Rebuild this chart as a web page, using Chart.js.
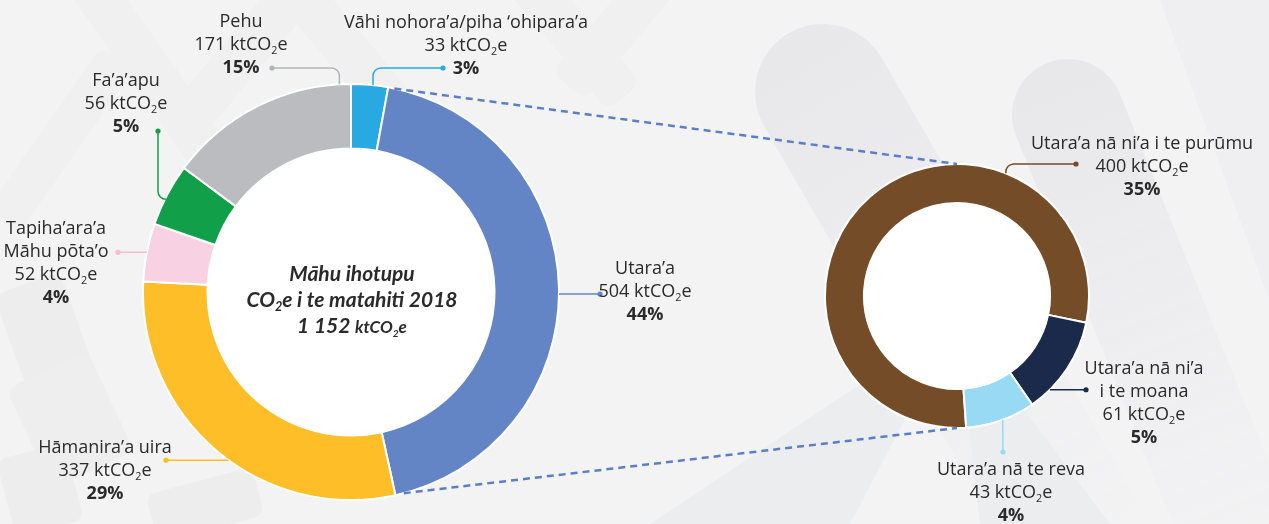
<!DOCTYPE html>
<html>
<head>
<meta charset="utf-8">
<script src="https://cdn.jsdelivr.net/npm/chart.js@4.4.1/dist/chart.umd.min.js"></script>
<style>
    body { margin: 0; width: 1269px; height: 524px; overflow: hidden; position: relative; background: #f3f3f4; font-family: "Open Sans", Lato, sans-serif; color: #2b2a2b; }
    canvas { position: absolute; }
    #bg { left: 0; top: 0; }
    #mainChart { left: 142px; top: 83px; }
    #transportChart { left: 824px; top: 163px; }
    #overlay { left: 0; top: 0; pointer-events: none; }
    .lbl { position: absolute; transform: translateX(-50%); text-align: center; white-space: nowrap; font-size: 18px; line-height: 23px; }
    .lbl b { font-weight: 700; }
    sub { font-size: 0.6em; vertical-align: -0.35em; line-height: 0; }
    #centre { position: absolute; left: 352px; top: 260px; transform: translateX(-50%); text-align: center; white-space: nowrap; font-family: Lato, sans-serif; font-style: italic; font-weight: 700; font-size: 21px; line-height: 26px; }
    #centre .small { font-size: 17px; }
</style>
</head>
<body>
<canvas id="bg" width="1269" height="524"></canvas>
<canvas id="mainChart" width="418" height="418"></canvas>
<canvas id="transportChart" width="266" height="266"></canvas>
<canvas id="overlay" width="1269" height="524"></canvas>
<div id="centre">Māhu ihotupu<br>CO<sub>2</sub>e i te matahiti 2018<br>1 152 <span class="small">ktCO<sub>2</sub>e</span></div>

<script>
// Emissions by sector (ktCO2e), 2018
const mainLabels = ['Vāhi nohora’a/piha ‘ohipara’a', 'Utara’a', 'Hāmanira’a uira', 'Tapiha’ara’a Māhu pōta’o', 'Fa’a’apu', 'Pehu'];
const mainValues = [33, 504, 337, 52, 56, 171];
const mainPercents = [3, 44, 29, 4, 5, 15];
const mainColors = ['#29a9e1', '#6384c5', '#fdbe27', '#f8d2e3', '#11a049', '#bbbcc0'];

// Transport breakdown (ktCO2e)
const transportLabels = ['Utara’a nā ni’a i te purūmu', 'Utara’a nā ni’a i te moana', 'Utara’a nā te reva'];
const transportValues = [400, 61, 43];
const transportPercents = [35, 5, 4];
const transportColors = ['#754c28', '#1b2a4b', '#98d9f3'];

// where each label sits and how its leader line runs (t = position along the slice)
const mainLayout = [
    { x: 466, y: 10, t: 0.59, dir: 'v', dot: [443, 68] },
    { x: 645, y: 256, t: 0.51, dir: 'h', dot: [600, null] },
    { x: 105, y: 435, t: 0.46, dir: 'h', dot: [166, null] },
    { x: 56, y: 216, t: 0.5, dir: 'h', dot: [118, null], split: 'Tapiha’ara’a' },
    { x: 126, y: 68, t: 0.42, dir: 'h', dot: [158, 131] },
    { x: 241, y: 9, t: 0.94, dir: 'v', dot: [272, 68] }
];
const transportLayout = [
    { x: 1142, y: 131, t: 0.72, dir: 'v', dot: [1076, 164] },
    { x: 1144, y: 356, t: 0.77, dir: 'h', dot: [1086, null], split: 'Utara’a nā ni’a' },
    { x: 1011, y: 457, t: 0.47, dir: 'v', dot: [1003, 452] }
];

function makeDoughnut(id, labels, values, colors, cutout, rotation) {
    return new Chart(document.getElementById(id), {
        type: 'doughnut',
        data: {
            labels: labels,
            datasets: [{
                data: values,
                backgroundColor: colors,
                borderColor: '#ffffff',
                borderWidth: 2
            }]
        },
        options: {
            responsive: false,
            animation: false,
            cutout: cutout,
            rotation: rotation,
            events: [],
            plugins: { legend: { display: false }, tooltip: { enabled: false } }
        },
        plugins: [{
            // white disc in the middle
            id: 'hole',
            beforeDatasetsDraw(chart) {
                const arc = chart.getDatasetMeta(0).data[0];
                const ctx = chart.ctx;
                ctx.save();
                ctx.fillStyle = '#ffffff';
                ctx.beginPath();
                ctx.arc(arc.x, arc.y, arc.innerRadius, 0, Math.PI * 2);
                ctx.fill();
                ctx.restore();
            }
        }]
    });
}

const mainChart = makeDoughnut('mainChart', mainLabels, mainValues, mainColors, '69%', 0);
const transportChart = makeDoughnut('transportChart', transportLabels, transportValues, transportColors, '70.5%', 176);

// faint background shapes
const bg = document.getElementById('bg').getContext('2d');
function roundRect(ctx, cx, cy, w, h, r, angle, color) {
    ctx.save();
    ctx.translate(cx, cy);
    ctx.rotate(angle * Math.PI / 180);
    ctx.fillStyle = color;
    ctx.beginPath();
    ctx.roundRect(-w / 2, -h / 2, w, h, r);
    ctx.fill();
    ctx.restore();
}
function pill(ctx, cx, cy, r, len, angle) {
    ctx.save();
    ctx.translate(cx, cy);
    ctx.rotate(angle * Math.PI / 180);
    const g = ctx.createLinearGradient(0, -r, 0, len);
    g.addColorStop(0, '#e8e8ea');
    g.addColorStop(0.3, '#ebebed');
    g.addColorStop(1, 'rgba(236,236,238,0)');
    ctx.fillStyle = g;
    ctx.beginPath();
    ctx.arc(0, 0, r, Math.PI, 0);
    ctx.lineTo(r, len);
    ctx.lineTo(-r, len);
    ctx.closePath();
    ctx.fill();
    ctx.restore();
}
// left side chevrons and blocks
roundRect(bg, 150, 70, 44, 240, 12, -35, '#f0f0f1');
roundRect(bg, 255, 40, 44, 200, 12, 40, '#f0f0f1');
roundRect(bg, 330, 30, 44, 200, 12, -40, '#f0f0f1');
roundRect(bg, 560, 20, 44, 200, 12, -40, '#f0f0f1');
roundRect(bg, 620, 25, 44, 160, 12, 40, '#f0f0f1');
roundRect(bg, 60, 140, 40, 200, 12, 35, '#f0f0f1');
roundRect(bg, 45, 335, 70, 110, 12, -20, '#ededee');
roundRect(bg, 70, 420, 90, 110, 12, -25, '#eeeeef');
roundRect(bg, 40, 490, 70, 80, 10, -15, '#ededee');
roundRect(bg, 205, 505, 110, 50, 10, -15, '#ededee');
// right side pills and rays
bg.fillStyle = '#efeff1';
bg.beginPath();
bg.moveTo(1160, 0); bg.lineTo(1269, 0); bg.lineTo(1269, 300);
bg.fill();
pill(bg, 823, 92, 68, 520, -30);
pill(bg, 1068, 115, 56, 480, -22);
bg.fillStyle = '#ecedef';
bg.beginPath();
bg.moveTo(650, 524); bg.lineTo(957, 320); bg.lineTo(850, 524);
bg.fill();
bg.beginPath();
bg.moveTo(980, 524); bg.lineTo(957, 320); bg.lineTo(1110, 524);
bg.fill();

// labels
function co2(v) { return v + ' ktCO<sub>2</sub>e'; }
function addLabels(labels, values, percents, layout) {
    labels.forEach((name, i) => {
        const L = layout[i];
        const lines = L.split ? [L.split, name.slice(L.split.length + 1)] : [name];
        const div = document.createElement('div');
        div.className = 'lbl';
        div.style.left = L.x + 'px';
        div.style.top = L.y + 'px';
        div.innerHTML = lines.join('<br>') + '<br>' + co2(values[i]) + '<br><b>' + percents[i] + '%</b>';
        document.body.appendChild(div);
    });
}
addLabels(mainLabels, mainValues, mainPercents, mainLayout);
addLabels(transportLabels, transportValues, transportPercents, transportLayout);

// leader lines and connector dashes
const ov = document.getElementById('overlay').getContext('2d');
function pointOnArc(chart, i, t) {
    const arc = chart.getDatasetMeta(0).data[i];
    const a = arc.startAngle + t * (arc.endAngle - arc.startAngle);
    const r = arc.outerRadius;
    const box = chart.canvas;
    return [box.offsetLeft + arc.x + r * Math.cos(a), box.offsetTop + arc.y + r * Math.sin(a)];
}
function drawLeaders(chart, layout, colors) {
    layout.forEach((L, i) => {
        const [ax, ay] = pointOnArc(chart, i, L.t);
        const dx = L.dot[0];
        const dy = L.dot[1] === null ? ay : L.dot[1];
        const corner = L.dir === 'v' ? [ax, dy] : [dx, ay];
        ov.save();
        ov.strokeStyle = colors[i];
        ov.fillStyle = colors[i];
        ov.lineWidth = 1.5;
        ov.beginPath();
        ov.moveTo(ax, ay);
        if (Math.abs(corner[0] - dx) + Math.abs(corner[1] - dy) > 1 && Math.abs(corner[0] - ax) + Math.abs(corner[1] - ay) > 1) {
            ov.arcTo(corner[0], corner[1], dx, dy, 8);
        }
        ov.lineTo(dx, dy);
        ov.stroke();
        ov.beginPath();
        ov.arc(dx, dy, 2.6, 0, Math.PI * 2);
        ov.fill();
        ov.restore();
    });
}
drawLeaders(mainChart, mainLayout, mainColors.map(c => c === '#f8d2e3' ? '#f5bcd4' : c === '#bbbcc0' ? '#b3b4b8' : c));
drawLeaders(transportChart, transportLayout, transportColors);

// dashed lines linking the transport slice to the breakdown ring
const tArc = transportChart.getDatasetMeta(0).data[0];
const tBox = transportChart.canvas;
const ringTop = [tBox.offsetLeft + tArc.x, tBox.offsetTop + tArc.y - tArc.outerRadius];
const ringBottom = [tBox.offsetLeft + tArc.x, tBox.offsetTop + tArc.y + tArc.outerRadius];
const from1 = pointOnArc(mainChart, 1, 0.011);
const from2 = pointOnArc(mainChart, 1, 0.985);
ov.save();
ov.strokeStyle = '#5b7fc7';
ov.lineWidth = 2.5;
ov.setLineDash([7, 5]);
ov.beginPath();
ov.moveTo(from1[0], from1[1]);
ov.lineTo(ringTop[0], ringTop[1]);
ov.moveTo(from2[0], from2[1]);
ov.lineTo(ringBottom[0], ringBottom[1]);
ov.stroke();
ov.restore();
</script>
</body>
</html>
